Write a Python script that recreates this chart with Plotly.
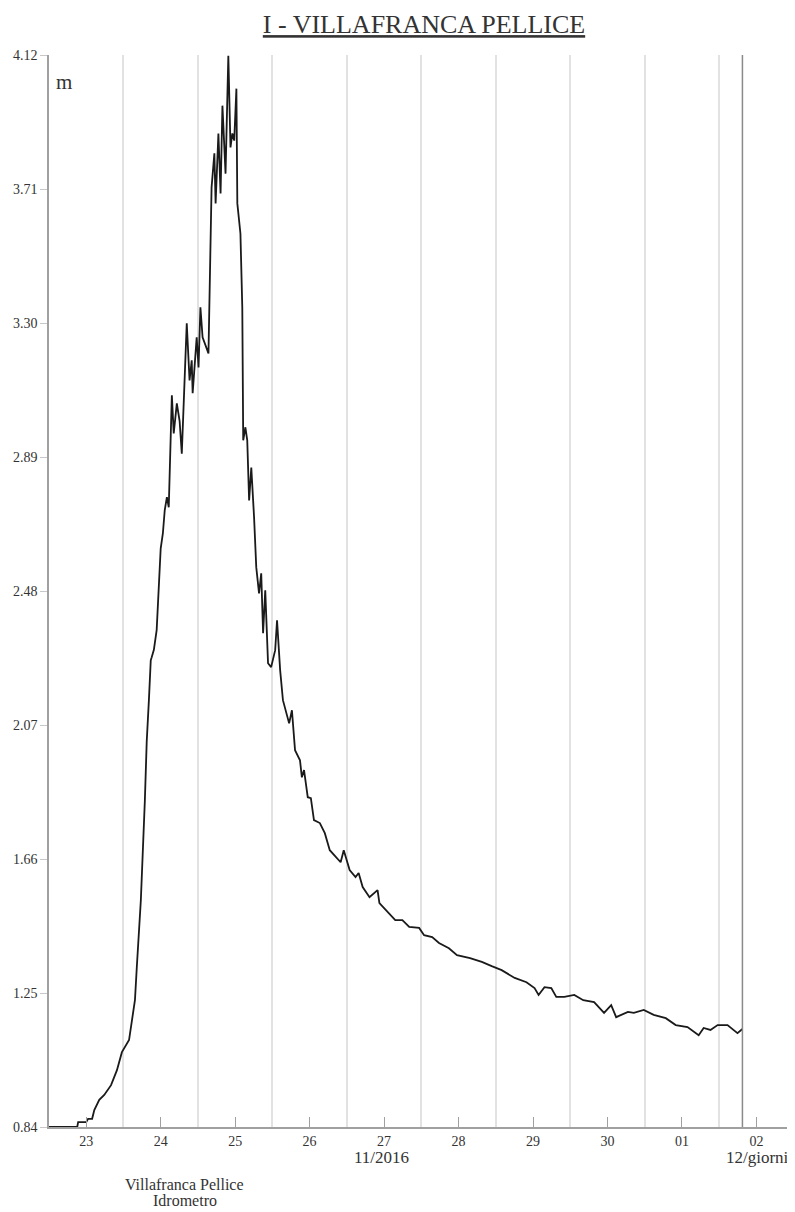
import pandas as pd
import plotly.graph_objects as go

# hours after 2016-11-23 00:00 and water level (m)
hours = [-12.0, -2.9, -2.6, 0.0, 0.6, 1.9, 2.6, 4.2, 5.8, 8.0, 9.9, 11.5, 13.8, 14.7, 15.7, 16.3,
         17.0, 17.6, 18.9, 19.5, 20.2, 20.8, 21.1, 21.8, 22.7, 23.4, 24.0, 24.7, 25.3, 26.0,
         26.6, 27.6, 28.2, 29.2, 30.1, 30.8, 32.4, 33.3, 34.0, 34.3, 35.6, 36.2, 36.8, 37.5,
         39.4, 40.4, 41.3, 41.7, 42.6, 43.3, 43.9, 44.9, 45.8, 46.5, 47.1, 47.7, 48.4, 48.7,
         49.7, 50.3, 50.6, 51.3, 51.9, 52.5, 53.2, 54.1, 54.8, 55.7, 56.4, 57.0, 57.7, 58.6,
         59.6, 60.9, 61.5, 62.5, 63.4, 65.4, 66.3, 67.3, 68.9, 69.5, 70.2, 71.4, 72.4, 73.4,
         75.3, 76.9, 78.5, 82.0, 83.0, 84.9, 86.8, 87.8, 89.1, 91.3, 93.9, 94.5, 97.7, 99.6,
         101.9, 104.1, 107.3, 108.9, 111.5, 113.7, 116.9, 119.5, 123.7, 127.5, 130.7, 133.9,
         138.1, 141.9, 144.5, 145.8, 147.7, 149.9, 151.5, 154.1, 157.3, 160.2, 163.7, 166.9,
         169.2, 170.8, 174.6, 176.5, 179.7, 182.9, 186.8, 190.0, 193.8, 197.4, 199.0, 201.2,
         203.5, 206.7, 208.6, 209.9, 211.5]
level = [0.84, 0.84, 0.855, 0.855, 0.865, 0.865, 0.892, 0.923, 0.938, 0.968, 1.014, 1.069, 1.106,
         1.158, 1.228, 1.329, 1.433, 1.534, 1.84, 2.02, 2.146, 2.268, 2.277, 2.30, 2.36, 2.48,
         2.61, 2.656, 2.727, 2.767, 2.736, 3.079, 2.962, 3.054, 3.00, 2.90, 3.299, 3.124, 3.186,
         3.085, 3.256, 3.164, 3.348, 3.256, 3.207, 3.715, 3.819, 3.666, 3.880, 3.696, 3.965,
         3.757, 4.118, 3.837, 3.880, 3.858, 4.017, 3.666, 3.574, 3.348, 2.941, 2.981, 2.941,
         2.757, 2.858, 2.705, 2.553, 2.473, 2.534, 2.351, 2.482, 2.259, 2.247, 2.299, 2.39,
         2.238, 2.146, 2.075, 2.115, 1.993, 1.962, 1.910, 1.932, 1.849, 1.846, 1.779, 1.77,
         1.739, 1.687, 1.65, 1.687, 1.626, 1.605, 1.617, 1.574, 1.543, 1.565, 1.525, 1.494,
         1.473, 1.473, 1.452, 1.449, 1.427, 1.421, 1.403, 1.387, 1.366, 1.357, 1.345, 1.332,
         1.32, 1.296, 1.283, 1.265, 1.244, 1.268, 1.265, 1.238, 1.238, 1.244, 1.228, 1.222,
         1.189, 1.213, 1.176, 1.192, 1.189, 1.198, 1.183, 1.173, 1.152, 1.146, 1.121, 1.143,
         1.137, 1.152, 1.152, 1.137, 1.127, 1.14]

y_ticks = [0.84, 1.25, 1.66, 2.07, 2.48, 2.89, 3.30, 3.71, 4.12]
day_ticks = ["2016-11-23", "2016-11-24", "2016-11-25", "2016-11-26", "2016-11-27",
             "2016-11-28", "2016-11-29", "2016-11-30", "2016-12-01", "2016-12-02"]
day_labels = ["23", "24", "25", "26", "27", "28", "29", "30", "01", "02"]
noon_grid = [d + " 12:00" for d in day_ticks[:-1]]

base = pd.Timestamp("2016-11-23 00:00")
times = [base + pd.Timedelta(hours=h) for h in hours]

FONT = "Liberation Serif"
TXT = "#333333"

fig = go.Figure()
fig.add_trace(go.Scatter(x=times, y=level, mode="lines",
                         line=dict(color="#1a1a1a", width=1.8), showlegend=False,
                         hoverinfo="skip"))

fig.add_shape(type="line", xref="x", yref="y", x0=times[-1], x1=times[-1],
              y0=y_ticks[0], y1=y_ticks[-1], line=dict(color="#8a8a8a", width=1.5))

# page has an 8px body margin: figure is drawn 8px right/down
W, H = 787, 1204
fig.update_layout(
    width=W, height=H,
    margin=dict(l=39, r=5, t=47, b=85),
    paper_bgcolor="white", plot_bgcolor="white",
    font=dict(family=FONT, color=TXT, size=14),
    title=dict(text="<u>I - VILLAFRANCA PELLICE</u>", x=(424 - 8) / W, xanchor="center",
               y=1 - (24 - 8) / H, yanchor="middle",
               font=dict(family=FONT, size=26, color=TXT)),
    xaxis=dict(
        range=["2016-11-22 12:00", "2016-12-02 10:50"],
        tickvals=day_ticks, ticktext=day_labels,
        ticks="inside", ticklen=10, tickcolor="#a0a0a0", tickwidth=1,
        showgrid=False, showline=True, linecolor="#a0a0a0", linewidth=1.5,
        zeroline=False,
        tickfont=dict(family=FONT, size=14, color=TXT),
        minor=dict(tickvals=noon_grid, showgrid=True, gridcolor="#e2e2e2", gridwidth=1.5,
                   ticks=""),
    ),
    yaxis=dict(
        range=[y_ticks[0], y_ticks[-1]],
        tickvals=y_ticks, tickformat=".2f",
        ticks="outside", ticklen=7, tickcolor="#c8c8c8",
        showgrid=False, showline=True, linecolor="#a0a0a0", linewidth=1.5,
        zeroline=False,
        tickfont=dict(family=FONT, size=14, color=TXT),
    ),
)

# (text, screen x, screen y, size, anchor)
annos = [
    ("m", 52, 82, 21, "left"),
    ("11/2016", 380, 1157, 17, "center"),
    ("12/giorni", 757, 1157, 17, "center"),
    ("Villafranca Pellice", 183, 1184, 16, "center"),
    ("Idrometro", 183, 1200, 16, "center"),
]
for text, sx, sy, size, anchor in annos:
    fig.add_annotation(text=text, xref="paper", yref="paper",
                       x=(sx - 47) / 743, y=(1127 - sy) / 1072,
                       xanchor=anchor, yanchor="middle", showarrow=False,
                       font=dict(family=FONT, size=size, color=TXT))

fig.write_html("out.html")
